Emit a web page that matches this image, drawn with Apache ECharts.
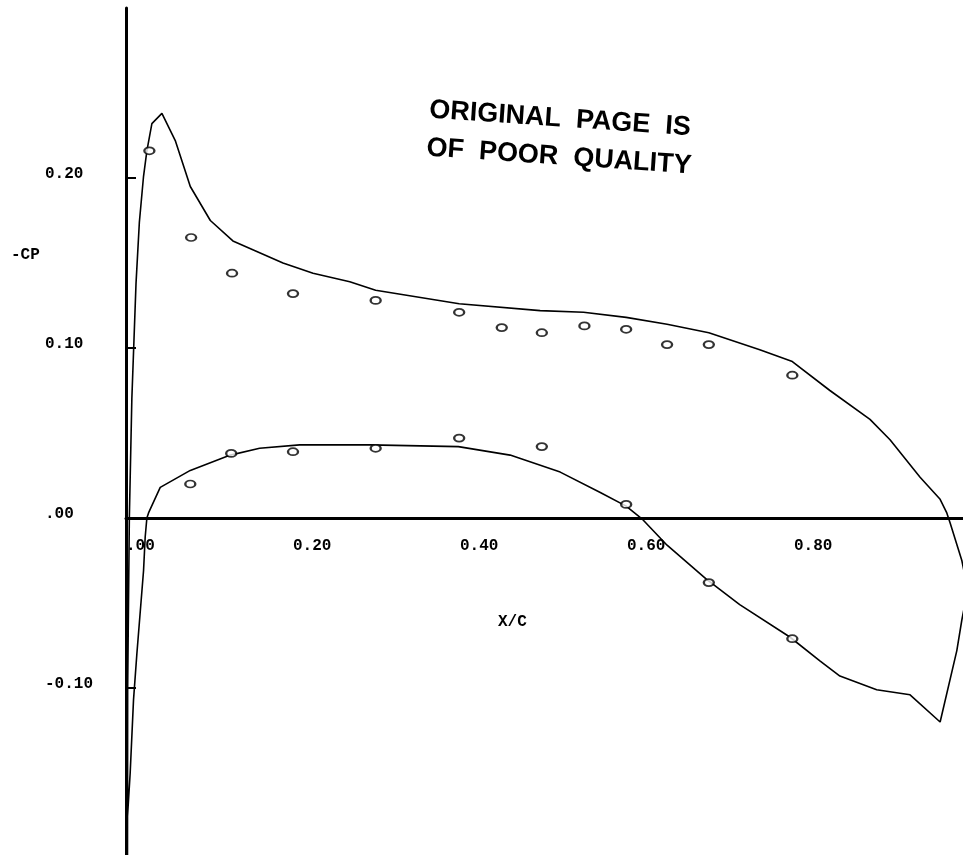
<!DOCTYPE html>
<html>
<head>
<meta charset="utf-8">
<script src="https://cdn.jsdelivr.net/npm/echarts@6/dist/echarts.min.js"></script>
<style>html,body{margin:0;padding:0;background:#fff}#c{width:963px;height:855px}</style>
</head>
<body>
<div id="c"></div>
<script>
// Computed -Cp curve, upper surface (from stagnation to trailing edge)
const calcUpperX = [0.000, 0.002, 0.004, 0.007, 0.012, 0.016, 0.021, 0.025, 0.031, 0.043, 0.059, 0.077, 0.101, 0.128, 0.188, 0.224, 0.268, 0.299, 0.399, 0.496, 0.548, 0.599, 0.648, 0.698, 0.759, 0.798, 0.843, 0.891, 0.915, 0.951, 0.975, 0.983, 0.987, 1.001, 1.008];
const calcUpperY = [-1.0, -0.10, 0.00, 0.07, 0.138, 0.174, 0.201, 0.216, 0.232, 0.238, 0.222, 0.195, 0.175, 0.163, 0.150, 0.144, 0.139, 0.134, 0.126, 0.122, 0.121, 0.118, 0.114, 0.109, 0.099, 0.092, 0.075, 0.058, 0.046, 0.024, 0.011, 0.003, -0.003, -0.025, -0.042];
// Computed -Cp curve, lower surface (from trailing edge back to stagnation)
const calcLowerX = [1.001, 0.995, 0.975, 0.939, 0.899, 0.855, 0.831, 0.795, 0.735, 0.695, 0.648, 0.619, 0.599, 0.568, 0.520, 0.460, 0.398, 0.292, 0.208, 0.160, 0.125, 0.077, 0.041, 0.027, 0.025, 0.023, 0.021, 0.013, 0.009, 0.005, 0.001, 0.000];
const calcLowerY = [-0.060, -0.078, -0.120, -0.104, -0.101, -0.093, -0.084, -0.070, -0.051, -0.036, -0.016, -0.001, 0.007, 0.015, 0.027, 0.037, 0.042, 0.043, 0.043, 0.041, 0.037, 0.028, 0.018, 0.003, 0.000, -0.011, -0.031, -0.080, -0.107, -0.150, -0.182, -1.0];
// Measured points
const measUpperX = [0.028, 0.078, 0.127, 0.200, 0.299, 0.399, 0.450, 0.498, 0.549, 0.599, 0.648, 0.698, 0.798];
const measUpperY = [0.216, 0.165, 0.144, 0.132, 0.128, 0.121, 0.112, 0.109, 0.113, 0.111, 0.102, 0.102, 0.084];
const measLowerX = [0.077, 0.126, 0.200, 0.299, 0.399, 0.498, 0.599, 0.698, 0.798];
const measLowerY = [0.020, 0.038, 0.039, 0.041, 0.047, 0.042, 0.008, -0.038, -0.071];
// Tick labels
const xTickValues = [0, 0.2, 0.4, 0.6, 0.8];
const xTickLabels = ['.00', '0.20', '0.40', '0.60', '0.80'];
const yTickValues = [-0.1, 0, 0.1, 0.2];
const yTickLabels = ['-0.10', '.00', '0.10', '0.20'];
const xAxisTitle = 'X/C';
const yAxisTitle = '-CP';
const stampLines = ['ORIGINAL  PAGE  IS', 'OF  POOR  QUALITY'];

function zip(xs, ys) { return xs.map((x, i) => [x, ys[i]]); }
function lookup(vals, labels, v) {
  for (let i = 0; i < vals.length; i++) if (Math.abs(vals[i] - v) < 1e-6) return labels[i];
  return '';
}
const calcData = zip(calcUpperX, calcUpperY).concat(zip(calcLowerX, calcLowerY));
const mono = '"Liberation Mono", "DejaVu Sans Mono", monospace';

const Y_MIN = -0.2, Y_MAX = 0.3;
const GRID_TOP = 8, GRID_H = 850;
// offset that moves the bottom x axis up to the y = 0 level
const xAxisOffset = -GRID_H * (0 - Y_MIN) / (Y_MAX - Y_MIN);

const chart = echarts.init(document.getElementById('c'), null, {renderer: 'canvas'});
chart.setOption({
  backgroundColor: '#fff',
  animation: false,
  grid: {left: 126, top: GRID_TOP, width: 851.7, height: GRID_H, containLabel: false, outerBoundsMode: 'none'},
  xAxis: {
    type: 'value', min: 0, max: 1.02, interval: 0.2,
    position: 'bottom', offset: xAxisOffset,
    splitLine: {show: false},
    axisLine: {onZero: false, lineStyle: {color: '#000', width: 3}},
    axisTick: {show: false},
    axisLabel: {
      margin: 20, align: 'left', verticalAlign: 'top',
      color: '#000', fontFamily: mono, fontWeight: 'bold', fontSize: 16,
      customValues: xTickValues,
      formatter: v => lookup(xTickValues, xTickLabels, v)
    }
  },
  yAxis: {
    type: 'value', min: Y_MIN, max: Y_MAX, interval: 0.1,
    splitLine: {show: false},
    axisLine: {onZero: false, lineStyle: {color: '#000', width: 3}},
    axisTick: {show: true, inside: true, length: 10, customValues: yTickValues, lineStyle: {color: '#000', width: 2}},
    axisLabel: {
      margin: 81, align: 'left', verticalAlign: 'bottom', lineHeight: 9,
      color: '#000', fontFamily: mono, fontWeight: 'bold', fontSize: 16,
      customValues: yTickValues,
      formatter: v => lookup(yTickValues, yTickLabels, v)
    }
  },
  graphic: [
    {type: 'text', left: 498, top: 614, style: {text: xAxisTitle, fill: '#000', font: 'bold 16px ' + mono}},
    {type: 'text', left: 11, top: 247, style: {text: yAxisTitle, fill: '#000', font: 'bold 16px ' + mono}},
    {type: 'text', x: 560, y: 119, rotation: -0.068,
      style: {text: stampLines[0], fill: '#000', font: 'bold 27px "Liberation Sans", Arial, sans-serif', align: 'center', verticalAlign: 'middle'}},
    {type: 'text', x: 559, y: 157, rotation: -0.068,
      style: {text: stampLines[1], fill: '#000', font: 'bold 27px "Liberation Sans", Arial, sans-serif', align: 'center', verticalAlign: 'middle'}}
  ],
  series: [
    {
      type: 'line', data: calcData, showSymbol: false, symbol: 'none', clip: true,
      lineStyle: {color: '#000', width: 1.6}, z: 3
    },
    {
      type: 'scatter', data: zip(measUpperX, measUpperY), symbol: 'circle', symbolSize: [10, 7],
      itemStyle: {color: '#fff', borderColor: '#000', borderWidth: 2}, z: 4
    },
    {
      type: 'scatter', data: zip(measLowerX, measLowerY), symbol: 'circle', symbolSize: [10, 7],
      itemStyle: {color: '#fff', borderColor: '#000', borderWidth: 2}, z: 4
    }
  ]
});
</script>
</body>
</html>
